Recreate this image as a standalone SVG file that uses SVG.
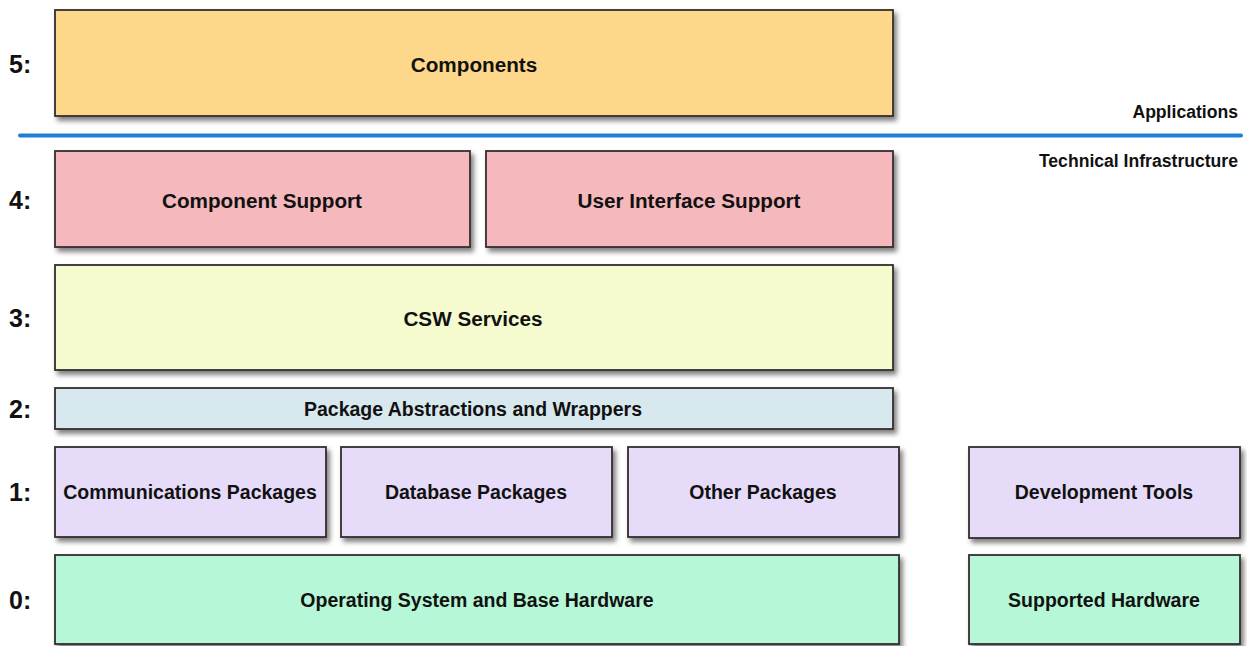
<svg xmlns="http://www.w3.org/2000/svg" width="1247" height="646" viewBox="0 0 1247 646">
  <defs>
    <filter id="shadow" x="-5%" y="-10%" width="115%" height="130%">
      <feDropShadow dx="3" dy="4" stdDeviation="2.5" flood-color="#000" flood-opacity="0.5"/>
    </filter>
  </defs>
  <style>
    .box { stroke: #352d2d; stroke-width: 1.8; filter: url(#shadow); }
    .lbl { font-family: "Liberation Sans", Arial, sans-serif; font-weight: bold; font-size: 19.5px; fill: #111; text-anchor: middle; dominant-baseline: central; }
    .big { font-size: 20.7px; }
    .lvl { font-family: "Liberation Sans", Arial, sans-serif; font-weight: bold; font-size: 25px; fill: #111; }
    .zone { font-family: "Liberation Sans", Arial, sans-serif; font-weight: bold; font-size: 17.6px; fill: #111; text-anchor: end; }
    .app { fill: #fdd88a; }
    .sup { fill: #f5b8bc; }
    .svc { fill: #f5facf; }
    .wrap { fill: #d8e8ef; }
    .pkg { fill: #e6dbf8; }
    .hw { fill: #b5f7d6; }
  </style>

  <rect width="1247" height="646" fill="#fff"/>

  <!-- level numbers -->
  <g id="levels">
    <text class="lvl" x="9" y="73">5:</text>
    <text class="lvl" x="9" y="209">4:</text>
    <text class="lvl" x="9" y="327">3:</text>
    <text class="lvl" x="9" y="418">2:</text>
    <text class="lvl" x="9" y="501">1:</text>
    <text class="lvl" x="9" y="609">0:</text>
  </g>

  <!-- divider between applications and infrastructure -->
  <g id="divider">
    <line x1="20" y1="135.5" x2="1241" y2="135.5" stroke="#1f7fd6" stroke-width="4" stroke-linecap="round"/>
    <text class="zone" x="1238" y="118">Applications</text>
    <text class="zone" x="1238" y="167">Technical Infrastructure</text>
  </g>

  <g id="components">
    <rect class="box app" x="55" y="10" width="838" height="106"/>
    <text class="lbl big" x="474" y="64">Components</text>
  </g>

  <g id="component-support">
    <rect class="box sup" x="55" y="151" width="415" height="96"/>
    <text class="lbl big" x="262" y="200">Component Support</text>
  </g>

  <g id="ui-support">
    <rect class="box sup" x="486" y="151" width="407" height="96"/>
    <text class="lbl big" x="689" y="200">User Interface Support</text>
  </g>

  <g id="csw-services">
    <rect class="box svc" x="55" y="265" width="838" height="105"/>
    <text class="lbl big" x="473" y="318">CSW Services</text>
  </g>

  <g id="package-wrappers">
    <rect class="box wrap" x="55" y="388" width="838" height="41"/>
    <text class="lbl" x="473" y="409">Package Abstractions and Wrappers</text>
  </g>

  <g id="comm-packages">
    <rect class="box pkg" x="55" y="447" width="271" height="90"/>
    <text class="lbl" x="190" y="492">Communications Packages</text>
  </g>

  <g id="db-packages">
    <rect class="box pkg" x="341" y="447" width="271" height="90"/>
    <text class="lbl" x="476" y="492">Database Packages</text>
  </g>

  <g id="other-packages">
    <rect class="box pkg" x="628" y="447" width="271" height="90"/>
    <text class="lbl" x="763" y="492">Other Packages</text>
  </g>

  <g id="dev-tools">
    <rect class="box pkg" x="969" y="447" width="271" height="91"/>
    <text class="lbl" x="1104" y="492">Development Tools</text>
  </g>

  <g id="os-hardware">
    <rect class="box hw" x="55" y="555" width="844" height="89"/>
    <text class="lbl" x="477" y="600">Operating System and Base Hardware</text>
  </g>

  <g id="supported-hardware">
    <rect class="box hw" x="969" y="555" width="271" height="89"/>
    <text class="lbl" x="1104" y="600">Supported Hardware</text>
  </g>
</svg>
